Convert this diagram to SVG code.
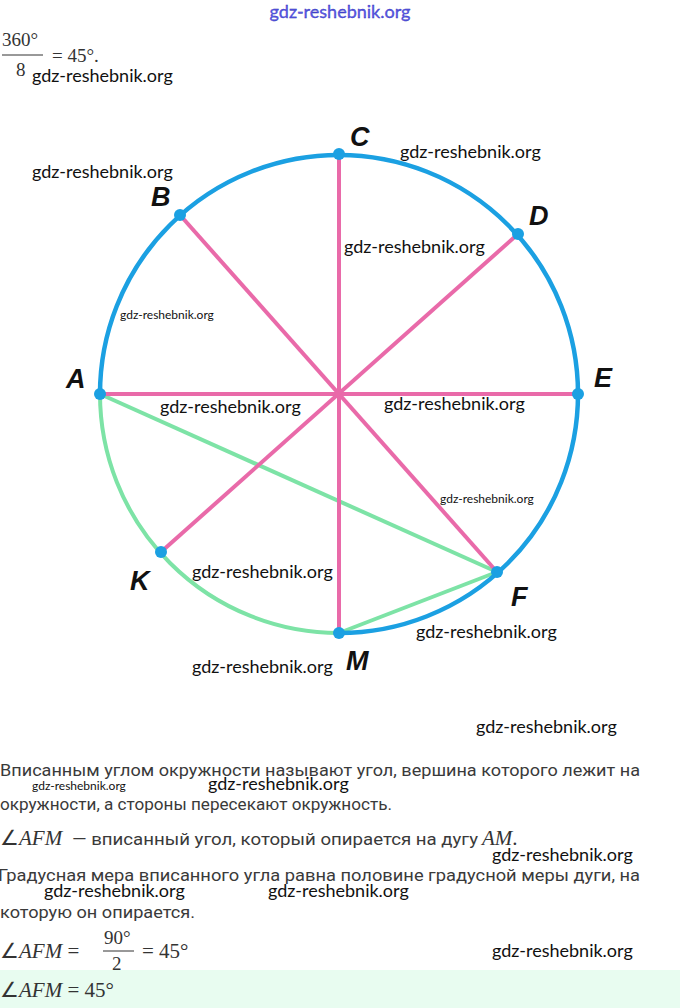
<svg xmlns="http://www.w3.org/2000/svg" width="680" height="1008" viewBox="0 0 680 1008">
<style>
.wm{font-family:Lato,"Open Sans",sans-serif;font-size:18px;fill:#111}
.wms{font-family:Lato,"Open Sans",sans-serif;font-size:12px;fill:#111}
.lbl{font-family:"Liberation Sans",Arial,sans-serif;font-size:27px;font-weight:bold;font-style:italic;fill:#111}
.txt{font-family:Roboto,"Noto Sans",sans-serif;font-size:17px;fill:#3a3a3a}
.m{font-family:"Liberation Serif","Times New Roman",serif;font-size:21px;fill:#333}
.mi{font-style:italic}
.pink{stroke:#e96aa9;stroke-width:4;fill:none}
.blue{stroke:#1ba0e2;stroke-width:4.5;fill:none}
.green{stroke:#7de3a6;stroke-width:4;fill:none}
.dot{fill:#1ba0e2}
</style>
<rect width="680" height="1008" fill="#fff"/>
<text x="340" y="18" text-anchor="middle" style="font-family:Lato,sans-serif;font-size:18px;fill:#5a5ae8;stroke:#2a2ab0;stroke-width:0.3">gdz-reshebnik.org</text>
<g id="formula-top">
<text class="m" x="2" y="46" style="font-size:19px">360°</text>
<line x1="2" y1="55" x2="43" y2="55" stroke="#333" stroke-width="1"/>
<text class="m" x="16" y="76" style="font-size:19px">8</text>
<text class="m" x="52" y="62" style="font-size:19px">= 45°.</text>
</g>
<g id="connectors">
<path class="green" d="M100,394 A239,239 0 0 0 339,633"/>
<line class="green" x1="100" y1="394" x2="497" y2="572"/>
<line class="green" x1="339" y1="633" x2="497" y2="572"/>
<path class="blue" d="M100,394 A239,239 0 1 1 339,633"/>
<line class="pink" x1="100" y1="394" x2="578" y2="394"/>
<line class="pink" x1="339" y1="154" x2="339" y2="633"/>
<line class="pink" x1="180" y1="215" x2="497" y2="572"/>
<line class="pink" x1="518" y1="234" x2="161" y2="552"/>
</g>
<g id="A"><circle class="dot" cx="100" cy="394" r="6"/><text class="lbl" x="66" y="388">A</text></g>
<g id="B"><circle class="dot" cx="180" cy="215" r="6"/><text class="lbl" x="151" y="206">B</text></g>
<g id="C"><circle class="dot" cx="339" cy="154" r="6"/><text class="lbl" x="350" y="146">C</text></g>
<g id="D"><circle class="dot" cx="518" cy="234" r="6"/><text class="lbl" x="529" y="225">D</text></g>
<g id="E"><circle class="dot" cx="578" cy="394" r="6"/><text class="lbl" x="594" y="387">E</text></g>
<g id="F"><circle class="dot" cx="497" cy="572" r="6"/><text class="lbl" x="511" y="606">F</text></g>
<g id="K"><circle class="dot" cx="161" cy="552" r="6"/><text class="lbl" x="130" y="590">K</text></g>
<g id="M"><circle class="dot" cx="339" cy="633" r="6"/><text class="lbl" x="346" y="670">M</text></g>
<g id="watermarks">
<text class="wm" x="32" y="82">gdz-reshebnik.org</text>
<text class="wm" x="400" y="158">gdz-reshebnik.org</text>
<text class="wm" x="32" y="178">gdz-reshebnik.org</text>
<text class="wm" x="344" y="253">gdz-reshebnik.org</text>
<text class="wms" x="120" y="319">gdz-reshebnik.org</text>
<text class="wm" x="160" y="413">gdz-reshebnik.org</text>
<text class="wm" x="384" y="410">gdz-reshebnik.org</text>
<text class="wms" x="440" y="503">gdz-reshebnik.org</text>
<text class="wm" x="192" y="578">gdz-reshebnik.org</text>
<text class="wm" x="416" y="638">gdz-reshebnik.org</text>
<text class="wm" x="192" y="673">gdz-reshebnik.org</text>
<text class="wm" x="476" y="733">gdz-reshebnik.org</text>
<text class="wms" x="32" y="790">gdz-reshebnik.org</text>
<text class="wm" x="208" y="790">gdz-reshebnik.org</text>
<text class="wm" x="492" y="861">gdz-reshebnik.org</text>
<text class="wm" x="44" y="897">gdz-reshebnik.org</text>
<text class="wm" x="268" y="897">gdz-reshebnik.org</text>
<text class="wm" x="492" y="957">gdz-reshebnik.org</text>
</g>
<g id="text">
<text class="txt" x="0" y="776" textLength="640" lengthAdjust="spacingAndGlyphs">Вписанным углом окружности называют угол, вершина которого лежит на</text>
<text class="txt" x="0" y="810" textLength="392" lengthAdjust="spacingAndGlyphs">окружности, а стороны пересекают окружность.</text>
<text x="0" y="845"><tspan class="m">∠</tspan><tspan class="m mi">AFM</tspan><tspan class="m"> </tspan></text>
<text class="txt" x="72" y="845" textLength="406" lengthAdjust="spacingAndGlyphs">— вписанный угол, который опирается на дугу</text>
<text class="m" x="482" y="845"><tspan class="mi">AM</tspan><tspan>.</tspan></text>
<text class="txt" x="-2" y="881" textLength="642" lengthAdjust="spacingAndGlyphs">Градусная мера вписанного угла равна половине градусной меры дуги, на</text>
<text class="txt" x="0" y="918" textLength="195" lengthAdjust="spacingAndGlyphs">которую он опирается.</text>
<text class="m" x="0" y="958"><tspan>∠</tspan><tspan class="mi">AFM</tspan><tspan> =</tspan></text>
<text class="m" x="104" y="944" style="font-size:19px">90°</text>
<line x1="103" y1="951" x2="134" y2="951" stroke="#333" stroke-width="1"/>
<text class="m" x="112" y="970" style="font-size:19px">2</text>
<text class="m" x="142" y="958">= 45°</text>
</g>
<rect x="0" y="970" width="680" height="38" fill="#e8fcf0"/>
<text class="m" x="0" y="997"><tspan>∠</tspan><tspan class="mi">AFM</tspan><tspan> = 45°</tspan></text>
</svg>
